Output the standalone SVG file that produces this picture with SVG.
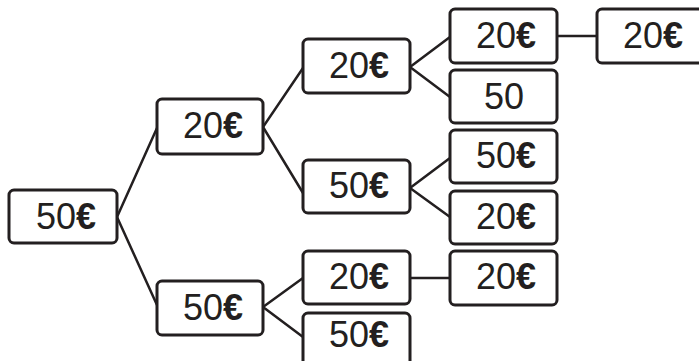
<svg xmlns="http://www.w3.org/2000/svg" width="699" height="361" viewBox="0 0 699 361">
<style>
.box{fill:#fff;stroke:#231f20;stroke-width:3;}
.t{font-family:"Liberation Sans",Arial,sans-serif;font-size:36px;fill:#231f20;text-anchor:middle;}
.e{font-weight:bold;}
.c{fill:none;stroke:#231f20;stroke-width:2.5;}
</style>
<rect width="699" height="361" fill="#fff"/>
<g id="connectors">
<polyline class="c" points="157,128 117,217 157,305"/>
<polyline class="c" points="303,68 263,127 303,193"/>
<polyline class="c" points="303,278 263,307 303,337"/>
<polyline class="c" points="450,37 410,67 450,97"/>
<polyline class="c" points="450,158 410,188 450,217"/>
<line class="c" x1="410" y1="278" x2="450" y2="278"/>
<line class="c" x1="557" y1="36" x2="597" y2="36"/>
</g>
<g id="root"><rect class="box" x="9" y="190" width="108" height="53" rx="5"/><text class="t" x="66" y="229">50<tspan class="e">€</tspan></text></g>
<g id="n20a"><rect class="box" x="157" y="99" width="106" height="55" rx="5"/><text class="t" x="213" y="138">20<tspan class="e">€</tspan></text></g>
<g id="n50a"><rect class="box" x="157" y="281" width="106" height="54" rx="5"/><text class="t" x="213" y="320">50<tspan class="e">€</tspan></text></g>
<g id="n20b"><rect class="box" x="303" y="39" width="107" height="54" rx="5"/><text class="t" x="359" y="78">20<tspan class="e">€</tspan></text></g>
<g id="n50b"><rect class="box" x="303" y="160" width="107" height="53" rx="5"/><text class="t" x="359" y="198">50<tspan class="e">€</tspan></text></g>
<g id="n20c"><rect class="box" x="303" y="251" width="107" height="53" rx="5"/><text class="t" x="359" y="289">20<tspan class="e">€</tspan></text></g>
<g id="n50c"><rect class="box" x="303" y="313" width="107" height="60" rx="5"/><text class="t" x="359" y="347">50<tspan class="e">€</tspan></text></g>
<g id="n20d"><rect class="box" x="450" y="9" width="107" height="54" rx="5"/><text class="t" x="506" y="48">20<tspan class="e">€</tspan></text></g>
<g id="n50d"><rect class="box" x="450" y="70" width="107" height="53" rx="5"/><text class="t" x="504" y="109">50</text></g>
<g id="n50e"><rect class="box" x="450" y="130" width="107" height="53" rx="5"/><text class="t" x="506" y="168">50<tspan class="e">€</tspan></text></g>
<g id="n20e"><rect class="box" x="450" y="191" width="107" height="53" rx="5"/><text class="t" x="506" y="229">20<tspan class="e">€</tspan></text></g>
<g id="n20f"><rect class="box" x="450" y="251" width="107" height="54" rx="5"/><text class="t" x="506" y="289">20<tspan class="e">€</tspan></text></g>
<g id="n20g"><rect class="box" x="597" y="9" width="110" height="54" rx="5"/><text class="t" x="653" y="48">20<tspan class="e">€</tspan></text></g>
</svg>
